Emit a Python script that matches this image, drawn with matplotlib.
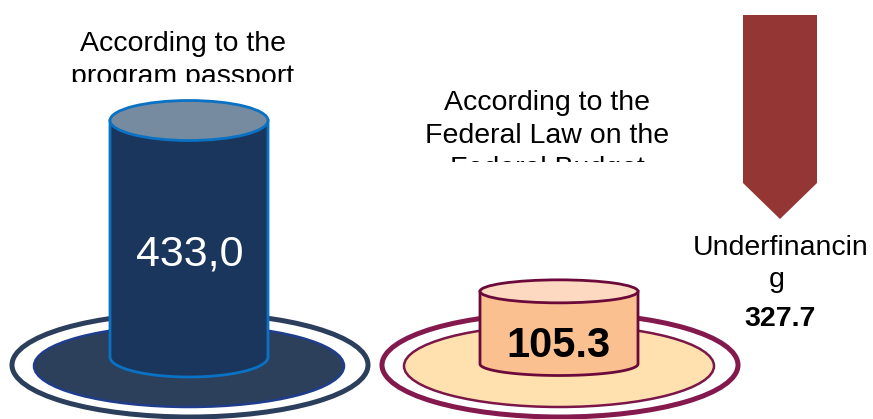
import numpy as np
import matplotlib.pyplot as plt
from matplotlib.patches import Ellipse, Polygon, Rectangle

# --- datos ---
etiquetas = [
    ["According to the", "program passport"],
    ["According to the", "Federal Law on the", "Federal Budget"],
]
valores = [433.0, 105.3]
textos_valor = ["433,0", "105.3"]
deficit = 327.7
texto_deficit = ["Underfinancin", "g"]
texto_deficit_valor = "327.7"

# --- estilo por cilindro ---
estilos = [
    dict(cuerpo="#1b365d", tapa="#768aa0", borde="#0a72c4", base="#2c3f5b",
         base_borde="#1f3d8c", anillo="#2b3f5c", txt="white", peso="normal", tam=31),
    dict(cuerpo="#fac090", tapa="#fcd9c0", borde="#6b0a3a", base="#ffe1af",
         base_borde="#7a1648", anillo="#84194e", txt="black", peso="bold", tam=30),
]
centros_x = [189, 559]
y_fondo = [357, 364]
semi_ancho = [79, 79]
semi_alto = [20, 11.5]
px_por_unidad = 0.5  # altura del cilindro: 20 px + 0.5 px por unidad
altura_min = 20

plt.rcParams['font.family'] = ['Liberation Sans', 'DejaVu Sans']

fig = plt.figure(figsize=(8.73, 4.19), dpi=100)
ax = fig.add_axes([0, 0, 1, 1])
ax.set_xlim(0, 873)
ax.set_ylim(419, 0)
ax.axis('off')


def cilindro(cx, yb, a, b, alto, est):
    yt = yb - alto
    th = np.linspace(np.pi, 0, 60)
    arco = np.column_stack([cx + a * np.cos(th), yb + b * np.sin(th)])
    pts = np.vstack([[cx - a, yt], arco, [cx + a, yt]])
    ax.add_patch(Polygon(pts, closed=True, fc=est["cuerpo"], ec=est["borde"], lw=2, zorder=5))
    ax.add_patch(Ellipse((cx, yt), 2 * a, 2 * b, fc=est["tapa"], ec=est["borde"], lw=2, zorder=6))
    return yt


def recorte(y_corte):
    r = Rectangle((0, 0), 873, y_corte, transform=ax.transData, visible=False)
    ax.add_patch(r)
    return r


for i, v in enumerate(valores):
    est = estilos[i]
    cx = centros_x[i]
    # anillo exterior y base
    ax.add_patch(Ellipse((cx + 1, 365), 356, 104, fc="none", ec=est["anillo"], lw=3.6, zorder=2))
    ax.add_patch(Ellipse((cx, 366), 310, 82, fc=est["base"], ec=est["base_borde"], lw=1.8, zorder=3))
    alto = altura_min + v * px_por_unidad
    cilindro(cx, y_fondo[i], semi_ancho[i], semi_alto[i], alto, est)

# valores en los cilindros
ax.text(190, 265, textos_valor[0], ha='center', va='baseline', color=estilos[0]["txt"],
        fontsize=estilos[0]["tam"], fontweight=estilos[0]["peso"], zorder=8)
ax.text(558, 357, textos_valor[1], ha='center', va='baseline', color=estilos[1]["txt"],
        fontsize=estilos[1]["tam"], fontweight=estilos[1]["peso"], zorder=8)

# etiquetas (recortadas como en el original)
pos_etiquetas = [(183, 51, 82), (547, 110, 162)]
for lineas, (x, y0, corte) in zip(etiquetas, pos_etiquetas):
    clip = recorte(corte)
    for j, linea in enumerate(lineas):
        t = ax.text(x, y0 + 33 * j, linea, ha='center', va='baseline', fontsize=20.5,
                    color='black', clip_on=True)
        t.set_clip_path(clip)

# flecha de subfinanciamiento
flecha = [[743, 15], [817, 15], [817, 183], [780, 219], [743, 183]]
ax.add_patch(Polygon(flecha, closed=True, fc="#943634", ec="none", zorder=4))

ax.text(781, 255, texto_deficit[0], ha='center', va='baseline', fontsize=20.5)
ax.text(777, 287, texto_deficit[1], ha='center', va='baseline', fontsize=20.5)
t = ax.text(780, 326, texto_deficit_valor, ha='center', va='baseline', fontsize=20.5,
            fontweight='bold', clip_on=True)
t.set_clip_path(recorte(326))

fig.savefig("out.png", dpi=100)
